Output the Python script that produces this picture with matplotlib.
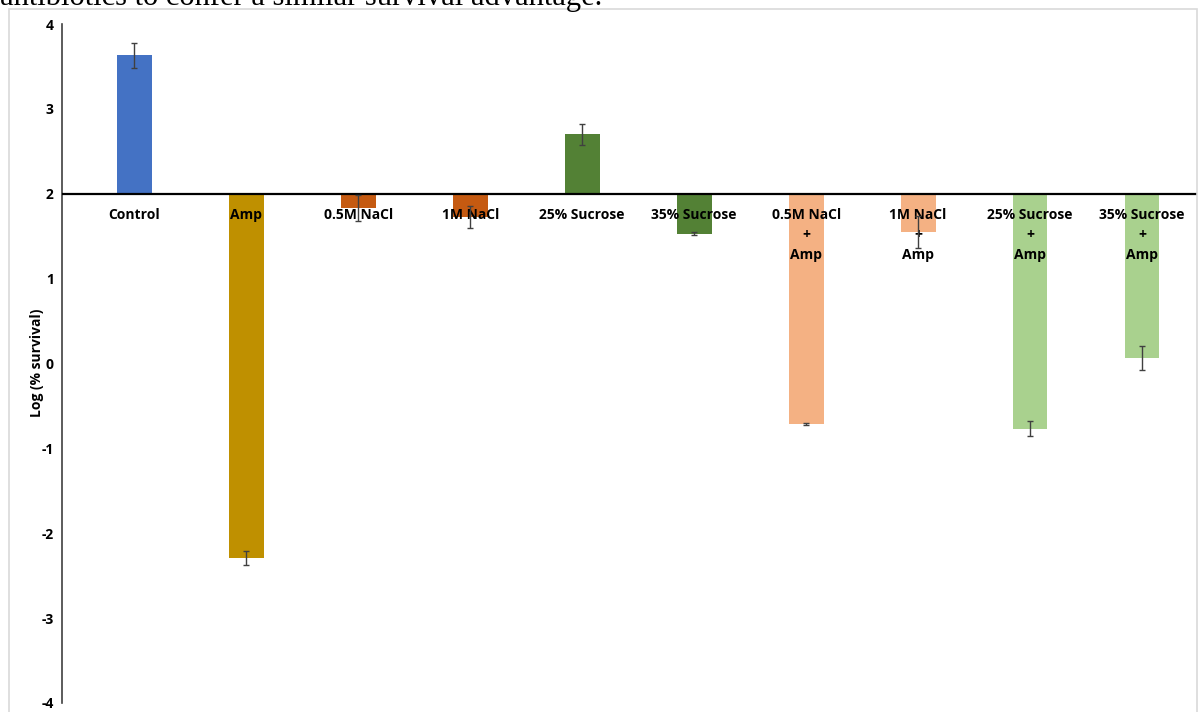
import matplotlib
matplotlib.use("Agg")
import matplotlib.pyplot as plt
from matplotlib.patches import Rectangle
from matplotlib.transforms import offset_copy

categories = ["Control", "Amp", "0.5M NaCl", "1M NaCl", "25% Sucrose", "35% Sucrose",
              "0.5M NaCl\n+\nAmp", "1M NaCl\n+\nAmp", "25% Sucrose\n+\nAmp", "35% Sucrose\n+\nAmp"]
values = [3.63, -2.29, 1.83, 1.73, 2.70, 1.53, -0.71, 1.55, -0.77, 0.065]
errors = [0.15, 0.08, 0.15, 0.13, 0.12, 0.02, 0.01, 0.19, 0.09, 0.14]
colors = ["#4472C4", "#BF9000", "#C55A11", "#C55A11", "#538135", "#538135",
          "#F4B183", "#F4B183", "#A9D18E", "#A9D18E"]
yticks = [-4, -3, -2, -1, 0, 1, 2, 3, 4]
baseline = 2
ylabel = "Log (% survival)"
top_text = "antibiotics to confer a similar survival advantage."

FONT = "Open Sans"
W, H = 1201, 712
fig = plt.figure(figsize=(W / 100, H / 100), dpi=100)

# page border / caption fragment
fig.patches.append(Rectangle((9 / W, -0.02), (1197 - 9) / W, 1 - 9 / H + 0.02,
                             transform=fig.transFigure, fill=False,
                             edgecolor="#D9D9D9", linewidth=1.2))
fig.text(0.0, 1 - 5 / H, top_text, family="Liberation Serif", fontsize=22,
         va="baseline", ha="left", color="black")

ax = fig.add_axes([62 / W, 9 / H, (1197 - 62) / W, (703 - 24) / H])
x = list(range(len(categories)))
heights = [v - baseline for v in values]
ax.bar(x, heights, bottom=baseline, width=0.31, color=colors, zorder=1)
ax.errorbar(x, values, yerr=errors, fmt="none", ecolor="#404040",
            elinewidth=1, capsize=2.5, capthick=1, zorder=4)
ax.axhline(baseline, color="black", linewidth=1.6, zorder=3)

ax.set_ylim(-4, 4)
ax.set_xlim(-0.645, 9.49)
ax.set_yticks(yticks)
ax.set_yticklabels([str(t) for t in yticks], fontweight="bold", family=FONT, fontsize=10)
ax.tick_params(axis="y", length=0, pad=6)
ax.set_xticks([])
for s in ["top", "right", "bottom"]:
    ax.spines[s].set_visible(False)
ax.spines["left"].set_color("#404040")
ax.spines["left"].set_linewidth(1.2)
fig.text(37 / W, 1 - 363 / H, ylabel, rotation=90, ha="center", va="center",
         fontweight="bold", family=FONT, fontsize=10)

trans = offset_copy(ax.transData, fig=fig, x=0, y=-14, units="dots")
for xi, lab in zip(x, categories):
    ax.text(xi, baseline, lab, transform=trans, ha="center", va="top",
            fontweight="bold", family=FONT, fontsize=10, linespacing=1.55,
            zorder=3.5)

fig.savefig("out.png", dpi=100)
